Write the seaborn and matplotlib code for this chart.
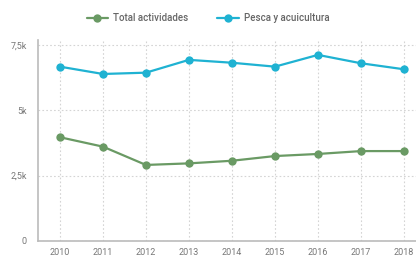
import matplotlib
matplotlib.use("Agg")
import matplotlib.pyplot as plt
import seaborn as sns
import pandas as pd

years = [2010, 2011, 2012, 2013, 2014, 2015, 2016, 2017, 2018]
total_actividades = [3970, 3610, 2910, 2970, 3070, 3250, 3330, 3440, 3440]
pesca_acuicultura = [6670, 6390, 6440, 6930, 6820, 6670, 7120, 6800, 6570]
series_names = ["Total actividades", "Pesca y acuicultura"]
y_ticks = [0, 2500, 5000, 7500]
y_tick_labels = ["0", "2,5k", "5k", "7,5k"]
colors = ["#6a9a64", "#1fb2d2"]

df = pd.DataFrame({
    "year": years * 2,
    "value": total_actividades + pesca_acuicultura,
    "serie": [series_names[0]] * len(years) + [series_names[1]] * len(years),
})

sns.set_style("white")
plt.rcParams["font.family"] = ["Roboto", "DejaVu Sans"]

fig = plt.figure(figsize=(4.16, 2.59), dpi=100)
ax = fig.add_axes([38/416, 1-241/259, 1-38/416, (241-40)/259])

sns.lineplot(data=df, x="year", y="value", hue="serie", palette=colors,
             hue_order=series_names, marker="o", markersize=6, linewidth=1.6,
             markeredgewidth=0, ax=ax, legend=True)

ax.set_xlim(2009.49, 2018.28)
ax.set_ylim(0, 7690)
ax.set_xticks(years)
ax.set_xticklabels([str(y) for y in years])
ax.set_yticks(y_ticks)
ax.set_yticklabels(y_tick_labels)
ax.set_xlabel("")
ax.set_ylabel("")
ax.grid(True, linestyle=(0, (1.5, 2)), color="#d4d4d4", linewidth=0.8)
ax.set_axisbelow(True)
for s in ["top", "right"]:
    ax.spines[s].set_visible(False)
for s in ["left", "bottom"]:
    ax.spines[s].set_color("#bbbbbb")
    ax.spines[s].set_linewidth(1.2)
ax.tick_params(axis="both", length=0, labelsize=6.5, colors="#777777", pad=5)
ax.tick_params(axis="y", pad=8)

handles, labels = ax.get_legend_handles_labels()
leg = ax.legend(handles, labels, loc="center", bbox_to_anchor=(208/416, 1-18/259),
                bbox_transform=fig.transFigure, ncol=2, frameon=False,
                fontsize=7, labelcolor="#666666", handlelength=2.2, columnspacing=3.0,
                handletextpad=0.5)
for t in leg.get_texts():
    t.set_fontweight("medium")

fig.savefig("out.png", dpi=100)
